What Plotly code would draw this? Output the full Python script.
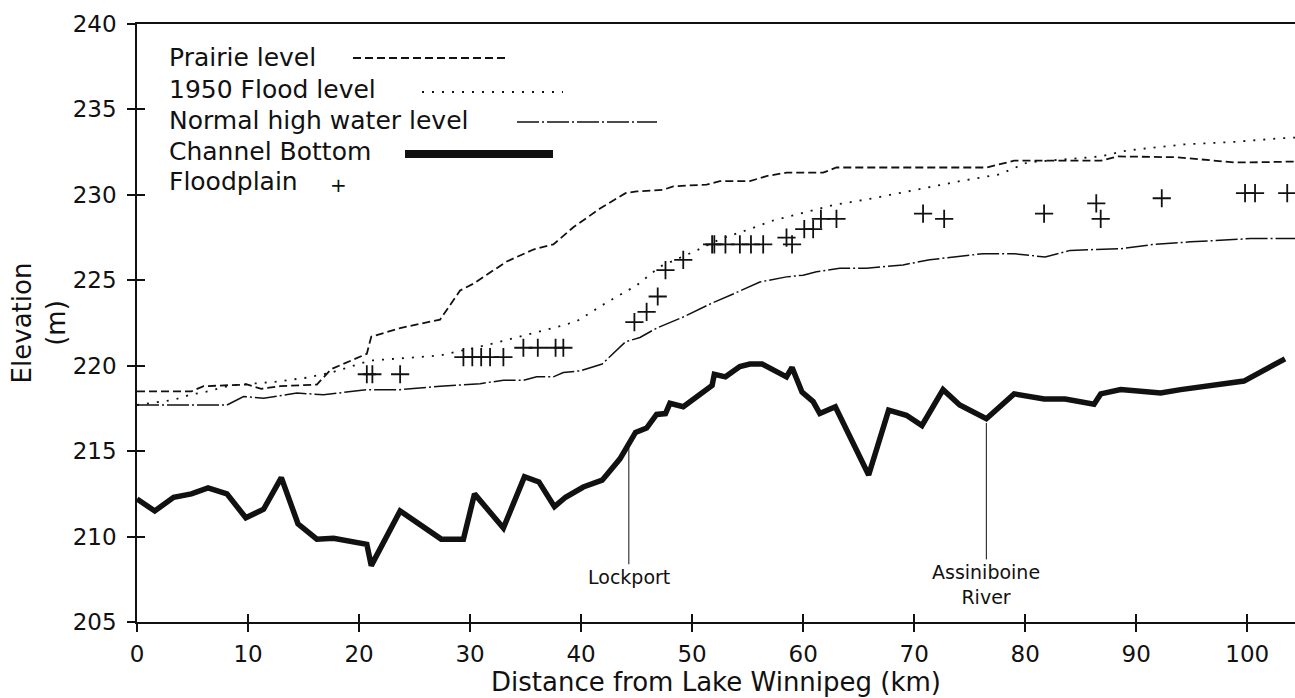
import numpy as np
import plotly.graph_objects as go

# ---------------- data ----------------
prairie_km = [0, 4.9, 6.0, 9.9, 11.2, 12.9, 16.2, 17.5, 20.7, 21.1, 23.7, 27.3, 29.1, 30.3,
              33.3, 35.7, 37.5, 39.3, 41.7, 44.0, 45.0, 47.4, 48.3, 51.3, 52.5, 55.2, 56.7,
              58.5, 61.8, 63.0, 72.6, 76.5, 79.0, 86.8, 88.3, 93.7, 98.8, 100.3, 104.3]
prairie_elev = [218.5, 218.5, 218.8, 218.9, 218.65, 218.8, 218.9, 219.8, 220.7, 221.7, 222.2,
                222.7, 224.4, 224.8, 226.1, 226.8, 227.1, 228.1, 229.2, 230.1, 230.2, 230.3,
                230.5, 230.6, 230.8, 230.8, 231.1, 231.3, 231.3, 231.6, 231.6, 231.6, 232.0,
                232.0, 232.25, 232.2, 231.9, 231.9, 231.95]

flood_km = [0, 3.3, 4.8, 6.4, 8.4, 10.2, 12.3, 15.3, 17.5, 21.0, 27.3, 32.1, 36.3, 38.0, 39.6,
            42.3, 45.0, 47.1, 50.4, 52.5, 55.2, 57.3, 60.3, 62.7, 66.3, 69.3, 74.1, 77.7, 80.2,
            86.8, 89.2, 94.3, 98.8, 102.8, 104.3]
flood_elev = [217.7, 218.0, 218.3, 218.5, 218.85, 218.95, 219.05, 219.3, 219.6, 220.3, 220.6,
              221.3, 222.0, 222.3, 222.6, 223.7, 224.7, 225.8, 226.75, 227.4, 228.0, 228.5,
              229.0, 229.4, 229.8, 230.2, 230.8, 231.2, 231.9, 232.25, 232.6, 232.95, 233.1,
              233.3, 233.35]

normal_km = [0, 8.1, 9.6, 11.4, 14.4, 16.8, 20.7, 23.7, 27.3, 30.9, 33.0, 34.8, 36.0, 37.5,
             38.4, 39.9, 41.9, 44.0, 45.3, 46.8, 49.2, 51.9, 53.7, 56.1, 58.5, 60.0, 61.2,
             63.3, 65.7, 69.0, 71.4, 76.2, 78.95, 81.8, 84.05, 88.6, 91.6, 94.9, 100.3, 104.3]
normal_elev = [217.7, 217.7, 218.2, 218.1, 218.4, 218.3, 218.6, 218.6, 218.8, 218.95, 219.15,
               219.15, 219.35, 219.35, 219.6, 219.7, 220.1, 221.4, 221.65, 222.2, 222.85,
               223.7, 224.2, 224.9, 225.2, 225.3, 225.5, 225.7, 225.7, 225.9, 226.2, 226.56,
               226.56, 226.36, 226.75, 226.85, 227.1, 227.25, 227.44, 227.44]

channel_km = [0, 1.6, 3.3, 4.9, 6.4, 8.1, 9.8, 11.4, 13.0, 14.5, 16.2, 17.7, 20.7, 21.1, 23.7,
              27.4, 29.4, 30.4, 33.0, 34.9, 36.2, 37.6, 38.6, 40.2, 41.9, 43.5, 44.9, 45.9,
              46.8, 47.6, 48.0, 49.2, 51.8, 52.0, 53.0, 54.3, 55.2, 56.3, 58.5, 59.0, 59.9,
              60.9, 61.5, 62.9, 65.9, 67.7, 69.3, 70.7, 72.6, 74.1, 76.5, 79.0, 81.7, 83.6,
              86.2, 86.8, 88.6, 92.2, 94.0, 99.7, 103.4]
channel_elev = [212.2, 211.5, 212.3, 212.5, 212.85, 212.5, 211.1, 211.6, 213.45, 210.75, 209.85,
                209.9, 209.55, 208.3, 211.5, 209.85, 209.85, 212.5, 210.5, 213.5, 213.2, 211.75,
                212.3, 212.9, 213.3, 214.55, 216.1, 216.35, 217.15, 217.2, 217.8, 217.6, 218.85,
                219.5, 219.35, 219.95, 220.1, 220.1, 219.35, 219.9, 218.45, 217.9, 217.2, 217.6,
                213.6, 217.4, 217.1, 216.5, 218.6, 217.7, 216.9, 218.35, 218.05, 218.05, 217.75,
                218.35, 218.6, 218.4, 218.6, 219.1, 220.4]

flood_pts_km = [20.7, 21.2, 23.7, 29.4, 30.2, 31.0, 31.8, 33.0, 34.8, 36.1, 37.7, 38.4, 44.8,
                45.9, 46.9, 47.6, 49.2, 51.8, 52.0, 53.0, 54.3, 55.3, 56.4, 58.5, 59.0, 60.1,
                60.9, 61.6, 63.0, 70.8, 72.7, 81.7, 86.4, 86.8, 92.3, 99.8, 100.7, 103.6]
flood_pts_elev = [219.5, 219.5, 219.5, 220.5, 220.5, 220.5, 220.5, 220.5, 221.05, 221.05,
                  221.05, 221.05, 222.55, 223.15, 224.05, 225.6, 226.2, 227.1, 227.1, 227.1,
                  227.1, 227.1, 227.1, 227.5, 227.1, 228.0, 228.0, 228.6, 228.6, 228.9, 228.6,
                  228.9, 229.5, 228.6, 229.8, 230.1, 230.1, 230.1]

series_names = ["Prairie level", "1950 Flood level", "Normal high water level",
                "Channel Bottom", "Floodplain"]
x_ticks = [0, 10, 20, 30, 40, 50, 60, 70, 80, 90, 100]
y_ticks = [205, 210, 215, 220, 225, 230, 235, 240]

landmark_names = ["Lockport", "Assiniboine<br>River"]
landmark_km = [44.3, 76.5]
landmark_label_elev = [207.65, 207.2]

# ---------------- styling ----------------
FONT = "DejaVu Sans"
INK = "#111111"
X_RANGE = [0, 104.3]
Y_RANGE = [205, 240]
DASH_PRAIRIE = "8px,4px"
DASH_FLOOD = "2px,8px"
DASH_NORMAL = "22px,3px,2px,3px"

fig = go.Figure()
fig.add_trace(go.Scatter(x=prairie_km, y=prairie_elev, mode="lines", name=series_names[0],
                         line=dict(color=INK, width=1.8, dash=DASH_PRAIRIE)))
fig.add_trace(go.Scatter(x=flood_km, y=flood_elev, mode="lines", name=series_names[1],
                         line=dict(color=INK, width=1.8, dash=DASH_FLOOD)))
fig.add_trace(go.Scatter(x=normal_km, y=normal_elev, mode="lines", name=series_names[2],
                         line=dict(color=INK, width=1.5, dash=DASH_NORMAL)))
fig.add_trace(go.Scatter(x=channel_km, y=channel_elev, mode="lines", name=series_names[3],
                         line=dict(color=INK, width=5.5)))
fig.add_trace(go.Scatter(x=flood_pts_km, y=flood_pts_elev, mode="markers", name=series_names[4],
                         marker=dict(symbol="cross-thin", size=13,
                                     line=dict(color=INK, width=1.8)),
                         cliponaxis=False))
# helper trace so the overlay axes (inner half of the crossing ticks) are drawn
fig.add_trace(go.Scatter(x=[None], y=[None], xaxis="x2", yaxis="y2", showlegend=False,
                         hoverinfo="skip"))

# landmark leader lines + labels
for name, km, lab in zip(landmark_names, landmark_km, landmark_label_elev):
    y_on_bottom = float(np.interp(km, channel_km, channel_elev))
    fig.add_annotation(x=km, y=y_on_bottom - 0.25, ax=km, ay=lab, axref="x", ayref="y",
                       xref="x", yref="y", text=name, showarrow=True, arrowhead=0,
                       arrowwidth=1, arrowcolor=INK, standoff=0,
                       font=dict(family=FONT, size=19, color=INK), align="center")

# ---------------- hand-drawn style legend (label followed by sample) ----------------
L, R, T, B = 137, 1295, 24, 622


def xp(px):
    return (px - L) / (R - L)


def yp(py):
    return (B - py) / (B - T)


legend_rows = [57.5, 89, 120, 151, 181]
for name, row in zip(series_names, legend_rows):
    fig.add_annotation(x=xp(167), y=yp(row), xref="paper", yref="paper", text=name,
                       showarrow=False, xanchor="left", yanchor="middle",
                       font=dict(family=FONT, size=25, color=INK))

legend_samples = [
    (353, 505, 58, 1.8, DASH_PRAIRIE),
    (422, 563, 92, 1.8, DASH_FLOOD),
    (517, 657, 122, 1.5, DASH_NORMAL),
    (405, 553, 154, 8, "solid"),
]
for x0, x1, yy, w, d in legend_samples:
    fig.add_shape(type="line", xref="paper", yref="paper", x0=xp(x0), x1=xp(x1),
                  y0=yp(yy), y1=yp(yy), line=dict(color=INK, width=w, dash=d))
fig.add_annotation(x=xp(338), y=yp(185), xref="paper", yref="paper", text="+",
                   showarrow=False, xanchor="center", yanchor="middle",
                   font=dict(family=FONT, size=20, color=INK))

axis_common = dict(showgrid=False, zeroline=False, linecolor=INK, linewidth=1.5,
                   tickcolor=INK, tickwidth=1.5, ticklen=8)

fig.update_layout(
    width=1295, height=698,
    margin=dict(l=L, r=1295 - R, t=T, b=698 - B),
    paper_bgcolor="white", plot_bgcolor="white",
    showlegend=False,
    font=dict(family=FONT, color=INK),
    xaxis=dict(range=X_RANGE, tickmode="array", tickvals=x_ticks, ticks="outside",
               showline=True, mirror=True,
               tickfont=dict(size=23, family=FONT, color=INK),
               ticklabelstandoff=3,
               title=dict(text="Distance from Lake Winnipeg (km)",
                          font=dict(size=26, family=FONT, color=INK), standoff=4),
               **axis_common),
    yaxis=dict(range=Y_RANGE, tickmode="array", tickvals=y_ticks, ticks="outside",
               showline=True, tickfont=dict(size=23, family=FONT, color=INK),
               ticklabelstandoff=6,
               title=dict(text="Elevation<br>(m)",
                          font=dict(size=26, family=FONT, color=INK), standoff=0),
               **axis_common),
    xaxis2=dict(range=X_RANGE, overlaying="x", anchor="y", side="bottom", tickmode="array",
                tickvals=x_ticks, ticks="inside", showticklabels=False, showline=False,
                **axis_common),
    yaxis2=dict(range=Y_RANGE, overlaying="y", anchor="x", side="left", tickmode="array",
                tickvals=y_ticks, ticks="inside", showticklabels=False, showline=False,
                **axis_common),
)

fig.write_html("out.html")
